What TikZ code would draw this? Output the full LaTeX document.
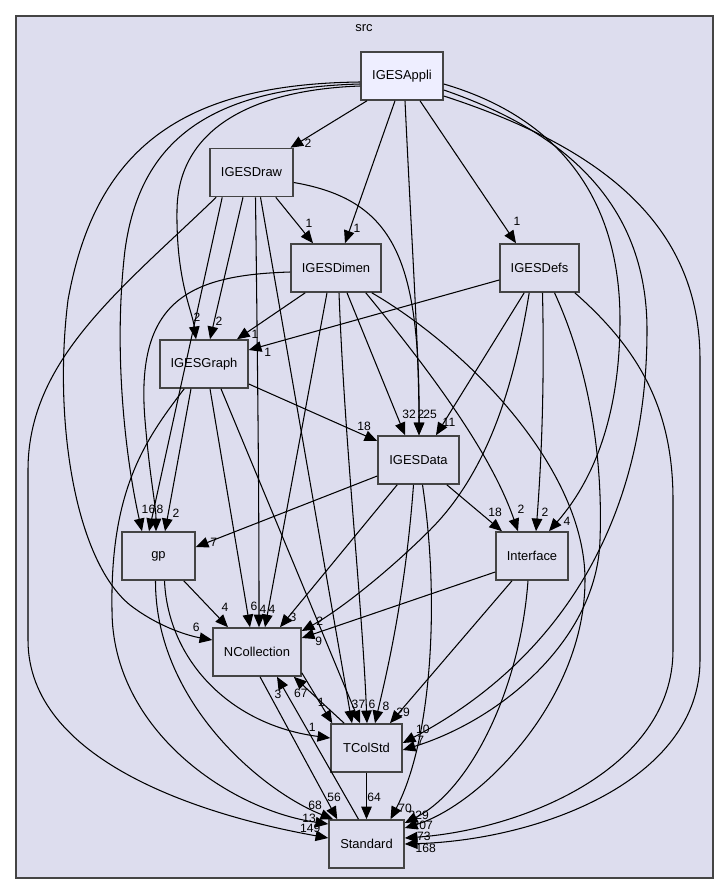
\documentclass[tikz,border=0pt]{standalone}
\usepackage{fontspec}
\setmainfont{Liberation Sans}
\usepackage{tikz}
\usetikzlibrary{arrows.meta,calc}

\definecolor{dirfill}{HTML}{DDDDEE}
\definecolor{topfill}{HTML}{EEEEFF}
\definecolor{dirline}{HTML}{444444}

\begin{document}
\begin{tikzpicture}[
        x=0.025cm, y=-0.025cm,
        font=\fontsize{9.2}{11}\selectfont,
        cluster/.style={
            draw=dirline,
            fill=dirfill,
            line width=1pt,
            minimum width=17.425cm,
            minimum height=21.55cm,
            inner sep=0pt
        },
        dir/.style={
            draw=dirline,
            fill=dirfill,
            line width=1.1pt,
            minimum height=1.2cm,
            inner sep=0pt
        },
        topdir/.style={dir, fill=topfill},
        dep/.style={-{Triangle[length=9pt,width=7.5pt]}, line width=0.75pt},
        lbl/.style={font=\fontsize{8.6}{10}\selectfont, inner sep=0pt, at end}
    ]
        \useasboundingbox (0,0) rectangle (728,895);
        \node[cluster] (srcdir) at (364.5,447) {};
        \node (srctitle) at (364,28) {src};

        \node[topdir, minimum width=2.05cm] (appli) at (402,76) {IGESAppli};
        \node[dir, minimum width=2.075cm] (drawing) at (251.5,172.5) {IGESDraw};
        \node[dir, minimum width=2.25cm] (dimen) at (336,268) {IGESDimen};
        \node[dir, minimum width=1.975cm] (defs) at (539.5,268) {IGESDefs};
        \node[dir, minimum width=2.2cm] (graph) at (204,364) {IGESGraph};
        \node[dir, minimum width=2.025cm] (data) at (418.5,460) {IGESData};
        \node[dir, minimum width=1.825cm] (gp) at (158.5,556) {gp};
        \node[dir, minimum width=1.8cm] (iface) at (532,556) {Interface};
        \node[dir, minimum width=2.2cm] (ncoll) at (257,652) {NCollection};
        \node[dir, minimum width=1.775cm] (tcolstd) at (366.5,748) {TColStd};
        \node[dir, minimum width=1.875cm] (standard) at (366.5,844) {Standard};

        \draw[dep] ($(appli.south)+(-35,0)$) -- ($(drawing.north)+(39,0)$) node[lbl, shift={(17.5,-4.5)}] {2};
        \draw[dep] ($(appli.south)+(-7,0)$) -- ($(dimen.north)+(9,0)$) node[lbl, shift={(12,-15)}] {1};
        \draw[dep] ($(appli.south)+(18,0)$) -- ($(defs.north)+(-23.5,0)$) node[lbl, shift={(1,-22)}] {1};
        \draw[dep] ($(appli.south)+(3,0)$) .. controls (412,250) and (419,350) .. ($(data.north)+(0.5,0)$) node[lbl, shift={(11,-21)}] {25};
        \draw[dep] ($(appli.west)+(0,10)$) .. controls (250,90) and (178,130) .. (177,210) .. controls (176,280) and (192,310) .. ($(graph.north)+(-8,0)$) node[lbl, shift={(1,-22)}] {2};
        \draw[dep] ($(appli.west)+(0,8)$) .. controls (210,88) and (140,140) .. (125,250) .. controls (112,360) and (128,470) .. ($(gp.north)+(-16.5,0)$) node[lbl, shift={(3,-22)}] {1};
        \draw[dep] ($(appli.west)+(0,6)$) .. controls (180,84) and (95,150) .. (68,300) .. controls (53,420) and (75,560) .. (130,605) .. controls (160,628) and (190,636) .. ($(ncoll.west)+(0,-12)$) node[lbl, shift={(-16,-13)}] {6};
        \draw[dep] ($(appli.east)+(0,8)$) .. controls (550,115) and (620,190) .. (620,320) .. controls (620,430) and (585,490) .. ($(iface.north)+(17,0)$) node[lbl, shift={(18,-10)}] {4};
        \draw[dep] ($(appli.east)+(0,14)$) .. controls (560,130) and (647,200) .. (647,330) .. controls (647,520) and (560,660) .. ($(tcolstd.east)+(0,-5)$) node[lbl, shift={(20,-14)}] {10};
        \draw[dep] ($(appli.east)+(0,20)$) .. controls (610,150) and (700,230) .. (700,360) -- (700,660) .. controls (700,780) and (540,840) .. (standard.east) node[lbl, shift={(21,4)}] {168};

        \draw[dep] ($(drawing.south east)+(-18,0)$) -- ($(dimen.north)+(-23,0)$) node[lbl, shift={(-4,-20)}] {1};
        \draw[dep] ($(drawing.south)+(-8.5,0)$) -- ($(graph.north)+(6,0)$) node[lbl, shift={(9,-18)}] {2};
        \draw[dep] ($(drawing.east)+(0,10)$) .. controls (395,200) and (420,260) .. ($(data.north)+(0.5,0)$) node[lbl, shift={(2,-21)}] {2};
        \draw[dep] ($(drawing.south west)+(13,0)$) -- ($(gp.north)+(-9.5,0)$) node[lbl, shift={(3,-22)}] {6};
        \draw[dep] ($(drawing.south)+(4,0)$) .. controls (258,400) and (259,500) .. ($(ncoll.north)+(2,0)$) node[lbl, shift={(4,-18)}] {4};
        \draw[dep] ($(drawing.south)+(9,0)$) -- ($(tcolstd.north)+(-14.5,0)$) node[lbl, shift={(3,-19)}] {3};
        \draw[dep] ($(drawing.south west)+(7,0)$) .. controls (120,290) and (28,360) .. (28,470) -- (28,640) .. controls (28,760) and (200,815) .. ($(standard.west)+(0,-6)$) node[lbl, shift={(-18,-10)}] {149};

        \draw[dep] ($(dimen.south west)+(15,0)$) -- ($(graph.north)+(33,0)$) node[lbl, shift={(18,-5)}] {1};
        \draw[dep] ($(dimen.west)+(0,4)$) .. controls (190,275) and (135,300) .. (145,420) .. controls (150,480) and (156,505) .. ($(gp.north)+(-2.5,0)$) node[lbl, shift={(4,-22)}] {8};
        \draw[dep] ($(dimen.south)+(-9,0)$) -- ($(ncoll.north)+(8,0)$) node[lbl, shift={(7,-18)}] {4};
        \draw[dep] ($(dimen.south)+(3,0)$) .. controls (345,450) and (362,600) .. ($(tcolstd.north)+(0.5,0)$) node[lbl, shift={(5,-19)}] {6};
        \draw[dep] ($(dimen.south)+(11,0)$) -- ($(data.north)+(-13.5,0)$) node[lbl, shift={(4,-21)}] {32};
        \draw[dep] ($(dimen.south east)+(-16,0)$) .. controls (425,365) and (490,450) .. ($(iface.north)+(-14,0)$) node[lbl, shift={(3,-22)}] {2};
        \draw[dep] ($(dimen.south east)+(-10,0)$) .. controls (470,350) and (585,470) .. (585,580) .. controls (585,700) and (480,805) .. ($(standard.east)+(0,-16)$) node[lbl, shift={(18,-3)}] {207};

        \draw[dep] ($(defs.west)+(0,12)$) -- ($(graph.east)+(0,-14)$) node[lbl, shift={(19,2)}] {1};
        \draw[dep] ($(defs.south west)+(25,0)$) -- ($(data.north)+(17.5,0)$) node[lbl, shift={(13,-13)}] {11};
        \draw[dep] ($(defs.south west)+(30,0)$) .. controls (515,380) and (490,470) .. (430,530) .. controls (390,570) and (340,610) .. ($(ncoll.east)+(0,-21)$) node[lbl, shift={(18,-10)}] {2};
        \draw[dep] ($(defs.south)+(3,0)$) .. controls (545,400) and (540,480) .. ($(iface.north)+(4,0)$) node[lbl, shift={(9,-19)}] {2};
        \draw[dep] ($(defs.south)+(15,0)$) .. controls (590,370) and (603,460) .. (600,540) .. controls (597,640) and (500,720) .. ($(tcolstd.east)+(0,2)$) node[lbl, shift={(18,-10)}] {7};
        \draw[dep] ($(defs.south east)+(-5,0)$) .. controls (640,350) and (673,410) .. (673,500) -- (673,650) .. controls (673,770) and (520,830) .. ($(standard.east)+(0,-6)$) node[lbl, shift={(19,-2)}] {73};

        \draw[dep] ($(graph.east)+(0,20)$) -- ($(data.west)+(0,-19)$) node[lbl, shift={(-13,-15)}] {18};
        \draw[dep] ($(graph.south)+(-13,0)$) -- ($(gp.north)+(6.5,0)$) node[lbl, shift={(11,-18)}] {2};
        \draw[dep] ($(graph.south)+(6,0)$) -- ($(ncoll.north)+(-7,0)$) node[lbl, shift={(4,-21)}] {6};
        \draw[dep] ($(graph.south)+(17,0)$) -- ($(tcolstd.north)+(-6.5,0)$) node[lbl, shift={(2,-19)}] {7};
        \draw[dep] ($(graph.south west)+(25,0)$) .. controls (145,440) and (110,490) .. (112,610) .. controls (112,730) and (230,810) .. ($(standard.west)+(0,-20)$) node[lbl, shift={(-19,-6)}] {13};

        \draw[dep] ($(data.west)+(0,16)$) -- ($(gp.east)+(0,-9)$) node[lbl, shift={(18,-5)}] {7};
        \draw[dep] ($(data.south west)+(20,0)$) -- ($(ncoll.north)+(23,0)$) node[lbl, shift={(13,-10)}] {3};
        \draw[dep] ($(data.south)+(-5,0)$) .. controls (405,600) and (385,680) .. ($(tcolstd.north)+(8.5,0)$) node[lbl, shift={(11,-17)}] {8};
        \draw[dep] ($(data.south east)+(-13,0)$) -- ($(iface.north)+(-30,0)$) node[lbl, shift={(-7,-19)}] {18};
        \draw[dep] ($(data.south)+(4,0)$) .. controls (440,600) and (432,740) .. ($(standard.north)+(24,0)$) node[lbl, shift={(14.5,-11)}] {70};

        \draw[dep] ($(gp.south east)+(-12,0)$) -- ($(ncoll.north)+(-29,0)$) node[lbl, shift={(-3,-20)}] {4};
        \draw[dep] ($(gp.south)+(6,0)$) .. controls (168,660) and (230,725) .. ($(tcolstd.west)+(0,-10)$) node[lbl, shift={(-18,-11)}] {1};
        \draw[dep] ($(gp.south)+(-3,0)$) .. controls (155,700) and (260,790) .. ($(standard.north west)+(5,0)$) node[lbl, shift={(-18,-14)}] {68};

        \draw[dep] ($(iface.west)+(0,16)$) -- ($(ncoll.east)+(0,-14)$) node[lbl, shift={(17,3)}] {9};
        \draw[dep] ($(iface.south)+(-20,0)$) -- ($(tcolstd.north)+(23.5,0)$) node[lbl, shift={(13,-11)}] {29};
        \draw[dep] ($(iface.south)+(-4,0)$) .. controls (520,690) and (470,790) .. ($(standard.east)+(0,-21)$) node[lbl, shift={(14,-8)}] {229};

        \draw[dep] ($(ncoll.south east)+(0,-4)$) -- ($(tcolstd.north west)+(2,0)$) node[lbl, shift={(-11,-21)}] {1};
        \draw[dep] ($(tcolstd.north west)+(14,0)$) -- ($(ncoll.south east)+(-8,0)$) node[lbl, shift={(7,17)}] {67};
        \draw[dep] ($(ncoll.south)+(3,0)$) -- ($(standard.north west)+(9,0)$) node[lbl, shift={(-3,-22)}] {56};
        \draw[dep] ($(standard.north)+(-8,0)$) -- ($(ncoll.south)+(20,0)$) node[lbl, shift={(1,18)}] {3};
        \draw[dep] (tcolstd) -- (standard) node[lbl, shift={(7.5,-22)}] {64};
    \end{tikzpicture}
\end{document}
